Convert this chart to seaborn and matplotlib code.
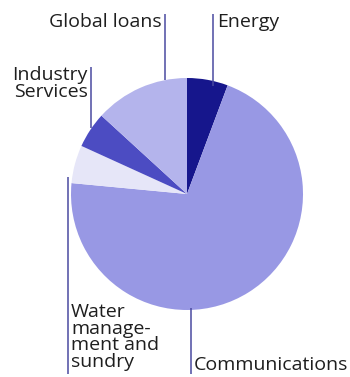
import matplotlib
matplotlib.use("Agg")
import matplotlib.pyplot as plt
import seaborn as sns

categories = ["Energy", "Communications", "Water management and sundry", "Industry Services", "Global loans"]
shares = [5.7, 70.8, 5.3, 5.0, 13.2]
colors = ["#16168c", "#9898e4", "#e6e6f8", "#4c4cc2", "#b4b4ec"]

sns.set_theme(style="white")
plt.rcParams["font.family"] = ["Open Sans", "DejaVu Sans"]

W, H = 350, 377
fig = plt.figure(figsize=(W / 100, H / 100), dpi=100)
ax = fig.add_axes([0, 0, 1, 1])

cx, cy, r = 187, H - 194, 116
ax.pie(shares, colors=colors, startangle=90, counterclock=False,
       center=(cx, cy), radius=r, frame=True,
       wedgeprops=dict(linewidth=0))
ax.set_xlim(0, W)
ax.set_ylim(0, H)
ax.set_aspect("equal")
ax.axis("off")

lc = "#4a4aa0"
tc = "#1e1e1e"
fs = 14

def vline(x, y0, y1):
    ax.plot([x, x], [H - y0, H - y1], color=lc, lw=1.1, solid_capstyle="butt")

def label(x, y, s, ha):
    ax.text(x, H - y, s, ha=ha, va="top", fontsize=fs, color=tc, linespacing=0.9)

# Global loans
vline(165, 14, 80)
label(162, 13, categories[4], "right")
# Energy
vline(213, 14, 86)
label(217, 13, categories[0], "left")
# Industry Services
vline(91, 67, 128)
label(88, 66, "Industry\nServices", "right")
# Water management
vline(68, 177, 374)
label(71, 303, "Water\nmanage-\nment and\nsundry", "left")
# Communications
vline(191, 308, 374)
label(194, 356, categories[1], "left")

fig.savefig("out.png", dpi=100)
